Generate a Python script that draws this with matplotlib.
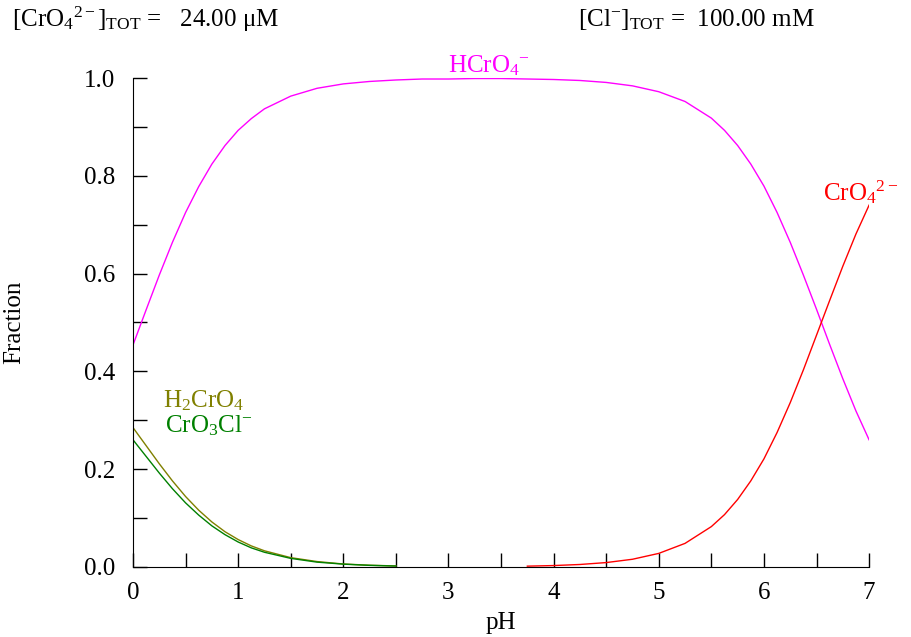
import matplotlib
matplotlib.use("Agg")
import matplotlib.pyplot as plt
from matplotlib.ticker import MultipleLocator, FormatStrFormatter

plt.rcParams["font.family"] = ["Liberation Serif", "DejaVu Serif"]
plt.rcParams["mathtext.fontset"] = "custom"
plt.rcParams["mathtext.rm"] = "Liberation Serif"
plt.rcParams["mathtext.it"] = "Liberation Serif:italic"
plt.rcParams["mathtext.default"] = "rm"

# fractions (finer steps where the curves bend)
ph = [0, 0.125, 0.25, 0.375, 0.5, 0.625, 0.75, 0.875, 1, 1.125, 1.25, 1.5,
      1.75, 2, 2.25, 2.5, 2.75, 3, 3.25, 3.5, 3.75, 4, 4.25, 4.5, 4.75, 5,
      5.25, 5.5, 5.625, 5.75, 5.875, 6, 6.125, 6.25, 6.375, 6.5, 6.625, 6.75,
      6.875, 7]
hcro4 = [0.454, 0.526, 0.597, 0.664, 0.725, 0.778, 0.824, 0.862, 0.893, 0.917,
         0.937, 0.963, 0.979, 0.988, 0.993, 0.996, 0.998, 0.998, 0.999, 0.999,
         0.998, 0.997, 0.995, 0.991, 0.984, 0.972, 0.952, 0.918, 0.893, 0.862,
         0.824, 0.779, 0.725, 0.664, 0.597, 0.527, 0.455, 0.385, 0.319, 0.260]

ph_acid = [0, 0.125, 0.25, 0.375, 0.5, 0.625, 0.75, 0.875, 1, 1.125, 1.25,
           1.5, 1.75, 2, 2.25, 2.5]
h2cro4 = [0.285, 0.248, 0.211, 0.176, 0.144, 0.116, 0.092, 0.072, 0.056, 0.043,
          0.033, 0.019, 0.011, 0.006, 0.0035, 0.002]
cro3cl = [0.260, 0.226, 0.192, 0.160, 0.131, 0.106, 0.084, 0.066, 0.051, 0.039,
          0.030, 0.0175, 0.0098, 0.0057, 0.0032, 0.0018]

ph_base = [3.75, 4, 4.25, 4.5, 4.75, 5, 5.25, 5.5, 5.625, 5.75, 5.875, 6,
           6.125, 6.25, 6.375, 6.5, 6.625, 6.75, 6.875, 7]
cro4 = [0.0016, 0.0028, 0.005, 0.0089, 0.0157, 0.0277, 0.0482, 0.0825, 0.107,
        0.138, 0.176, 0.221, 0.275, 0.336, 0.403, 0.474, 0.545, 0.615, 0.681,
        0.740]

FS = 18

fig = plt.figure(figsize=(9.11, 6.37), dpi=100)
ax = fig.add_axes([0.146, 0.110, 0.808, 0.7675])

ax.plot(ph, hcro4, color="#ff00ff", lw=1.0)
ax.plot(ph_base, cro4, color="#ff0000", lw=1.0)
ax.plot(ph_acid, h2cro4, color="#808000", lw=1.0)
ax.plot(ph_acid, cro3cl, color="#008000", lw=1.0)

ax.set_xlim(0, 7)
ax.set_ylim(0, 1.0)
ax.xaxis.set_major_locator(MultipleLocator(1))
ax.xaxis.set_minor_locator(MultipleLocator(0.5))
ax.yaxis.set_major_locator(MultipleLocator(0.2))
ax.yaxis.set_minor_locator(MultipleLocator(0.1))
ax.yaxis.set_major_formatter(FormatStrFormatter("%.1f"))
ax.tick_params(which="both", direction="in", length=10, width=1, labelsize=FS)
ax.tick_params(axis="x", which="major", pad=11)
ax.tick_params(axis="y", which="major", pad=13)
for s in ("top", "right"):
    ax.spines[s].set_visible(False)

ax.set_xlabel("pH", fontsize=FS)
ax.xaxis.set_label_coords(0.5, -0.092)
ax.set_ylabel("Fraction", fontsize=FS)
ax.yaxis.set_label_coords(-0.147, 0.5)

ax.text(3.0, 1.012, r"HCrO$_4$$^{-}$", color="#ff00ff", fontsize=FS,
        ha="left", va="baseline")
ax.text(6.565, 0.75, r"CrO$_4$$^{2-}$", color="#ff0000", fontsize=FS,
        ha="left", va="baseline")
ax.text(0.285, 0.327, r"H$_2$CrO$_4$", color="#808000", fontsize=FS,
        ha="left", va="baseline")
ax.text(0.30, 0.276, r"CrO$_3$Cl$^{-}$", color="#008000", fontsize=FS,
        ha="left", va="baseline")

fig.text(0.013, 0.97, r"[CrO$_4$$^{2-}$]$_{\rm TOT}$ =   24.00 $\mu$M",
         fontsize=FS, ha="left", va="center")
fig.text(0.634, 0.97, r"[Cl$^{-}$]$_{\rm TOT}$ =  100.00 mM",
         fontsize=FS, ha="left", va="center")

fig.savefig("out.png", dpi=100)
